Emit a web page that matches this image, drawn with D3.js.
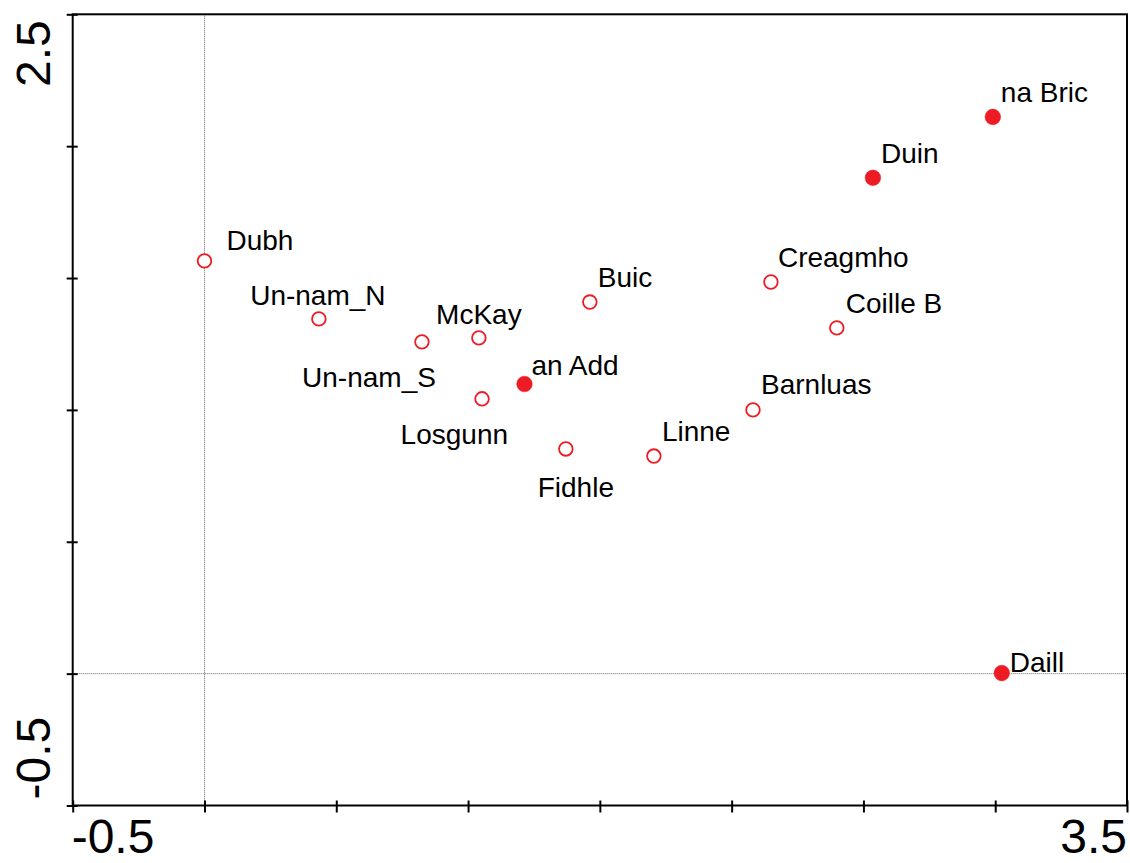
<!DOCTYPE html>
<html>
<head>
<meta charset="utf-8">
<script src="https://cdn.jsdelivr.net/npm/d3@7"></script>
<style>
  html, body { margin: 0; padding: 0; background: #fff; }
  svg { display: block; }
  text { font-family: "Liberation Sans", Arial, sans-serif; fill: #000; }
</style>
</head>
<body>
<svg id="chart" width="1130" height="863"></svg>
<script>
// Site names and their ordination scores
const sites = ["Dubh", "Un-nam_N", "Un-nam_S", "McKay", "an Add", "Losgunn", "Buic",
               "Fidhle", "Linne", "Barnluas", "Creagmho", "Coille B", "Duin", "na Bric", "Daill"];
const axis1 = [0.000, 0.434, 0.825, 1.041, 1.214, 1.053, 1.462,
               1.371, 1.705, 2.081, 2.149, 2.399, 2.536, 2.991, 3.025];
const axis2 = [1.565, 1.345, 1.258, 1.273, 1.098, 1.042, 1.409,
               0.852, 0.825, 1.000, 1.485, 1.311, 1.880, 2.111, 0.002];
// true = filled marker, false = open marker
const solid = [false, false, false, false, true, false, false,
               false, false, false, false, false, true, true, true];

// Axis ranges, tick positions and the labels printed at the ends
const xDomain = [-0.5, 3.5];
const yDomain = [-0.5, 2.5];
const xTicks = [-0.5, 0, 0.5, 1.0, 1.5, 2.0, 2.5, 3.0, 3.5];
const yTicks = [-0.5, 0, 0.5, 1.0, 1.5, 2.0, 2.5];
const xEndLabels = ["-0.5", "3.5"];
const yEndLabels = ["-0.5", "2.5"];

// Label placement relative to each marker: [anchor, dx, dy] in pixels
const labelPlacement = {
  "Dubh":     ["start",  22, -11],
  "Un-nam_N": ["middle", -1, -14],
  "Un-nam_S": ["end",    14,  45],
  "McKay":    ["middle",  0, -14],
  "an Add":   ["start",   7,  -9],
  "Losgunn":  ["end",    26,  45],
  "Buic":     ["start",   8, -15],
  "Fidhle":   ["middle", 10,  48],
  "Linne":    ["start",   8, -15],
  "Barnluas": ["start",   8, -16],
  "Creagmho": ["start",   7, -15],
  "Coille B": ["start",   9, -15],
  "Duin":     ["start",   8, -15],
  "na Bric":  ["start",   8, -15],
  "Daill":    ["start",   8,  -1]
};

const svg = d3.select("#chart");
const plotLeft = 72.7, plotRight = 1127, plotTop = 14.3, plotBottom = 805.5;
const red = "#ed1c24";

const x = d3.scaleLinear().domain(xDomain).range([plotLeft, plotRight]);
const y = d3.scaleLinear().domain(yDomain).range([plotBottom, plotTop]);

const points = sites.map((name, i) => ({ name, a1: axis1[i], a2: axis2[i], solid: solid[i] }));

// Dotted reference lines through the origin
svg.append("line")
  .attr("x1", x(0)).attr("x2", x(0)).attr("y1", plotTop).attr("y2", plotBottom)
  .attr("stroke", "#666").attr("stroke-width", 1).attr("stroke-dasharray", "1 1");
svg.append("line")
  .attr("x1", plotLeft).attr("x2", plotRight).attr("y1", y(0)).attr("y2", y(0))
  .attr("stroke", "#666").attr("stroke-width", 1).attr("stroke-dasharray", "1 1");

// Plot frame
svg.append("rect")
  .attr("x", plotLeft).attr("y", plotTop)
  .attr("width", plotRight - plotLeft).attr("height", plotBottom - plotTop)
  .attr("fill", "none").attr("stroke", "#000").attr("stroke-width", 2);

// Tick marks crossing the left and bottom axes
const gy = svg.append("g").attr("transform", `translate(${plotLeft},0)`)
  .call(d3.axisLeft(y).tickValues(yTicks).tickSize(6).tickSizeOuter(0).tickFormat(""));
gy.select(".domain").remove();
gy.selectAll(".tick line").attr("x1", 5).attr("x2", -6).attr("stroke", "#000").attr("stroke-width", 2);

const gx = svg.append("g").attr("transform", `translate(0,${plotBottom})`)
  .call(d3.axisBottom(x).tickValues(xTicks).tickSize(6).tickSizeOuter(0).tickFormat(""));
gx.select(".domain").remove();
gx.selectAll(".tick line").attr("y1", -5).attr("y2", 7).attr("stroke", "#000").attr("stroke-width", 2);

// End labels on the axes
svg.append("text").attr("x", x(xDomain[0]) - 1).attr("y", 853)
  .attr("text-anchor", "start").style("font-size", "48px").text(xEndLabels[0]);
svg.append("text").attr("x", x(xDomain[1])).attr("y", 853)
  .attr("text-anchor", "end").style("font-size", "48px").text(xEndLabels[1]);
svg.append("text").attr("transform", `translate(50,${y(yDomain[0]) - 6}) rotate(-90)`)
  .attr("text-anchor", "start").style("font-size", "48px").text(yEndLabels[0]);
svg.append("text").attr("transform", `translate(50,${y(yDomain[1]) + 6}) rotate(-90)`)
  .attr("text-anchor", "end").style("font-size", "48px").text(yEndLabels[1]);

// Site markers
svg.append("g").selectAll("circle").data(points).join("circle")
  .attr("cx", d => x(d.a1)).attr("cy", d => y(d.a2))
  .attr("r", d => d.solid ? 7.8 : 6.8)
  .attr("fill", d => d.solid ? red : "#fff")
  .attr("stroke", red)
  .attr("stroke-width", d => d.solid ? 0.5 : 1.8);

// Site labels
svg.append("g").selectAll("text").data(points).join("text")
  .attr("x", d => x(d.a1) + labelPlacement[d.name][1])
  .attr("y", d => y(d.a2) + labelPlacement[d.name][2])
  .attr("text-anchor", d => labelPlacement[d.name][0])
  .style("font-size", "28px")
  .text(d => d.name);
</script>
</body>
</html>
